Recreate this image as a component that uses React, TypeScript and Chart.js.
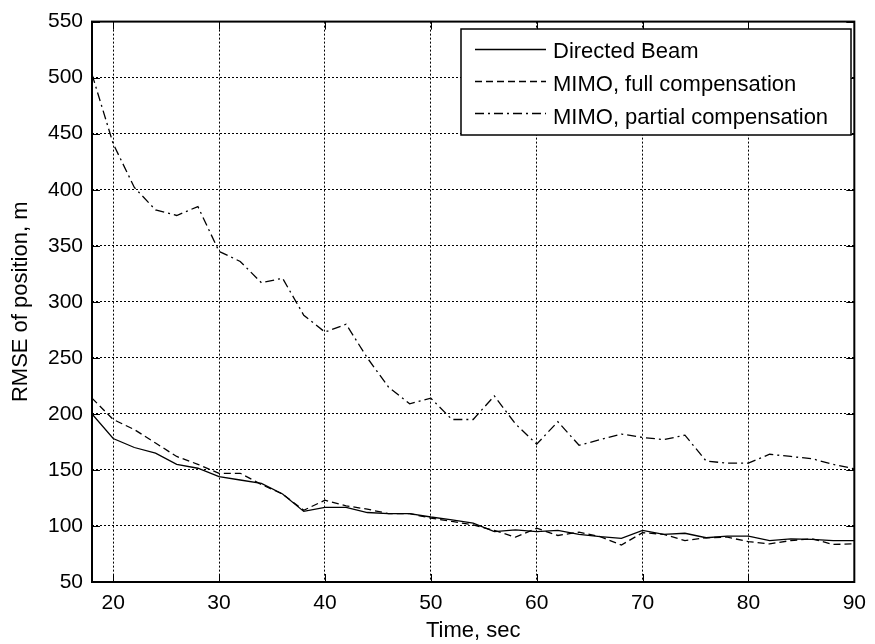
import React, { useEffect, useRef } from "react";
import { Chart, registerables } from "chart.js";

Chart.register(...registerables);

const timeSec = [18, 20, 22, 24, 26, 28, 30, 32, 34, 36, 38, 40, 42, 44, 46, 48, 50, 52, 54, 56, 58, 60, 62, 64, 66, 68, 70, 72, 74, 76, 78, 80, 82, 84, 86, 88, 90];
const directedBeam = [200, 178, 170, 165, 155, 151.5, 144, 141, 138, 128.5, 113, 116.5, 116.5, 112, 111, 111, 108, 105.5, 102.5, 95, 96.5, 95, 96, 92.5, 90.5, 89, 96, 92.5, 93.5, 89.5, 91, 91, 87, 88.5, 88, 87, 87];
const mimoFull = [214, 195, 186, 174, 162, 155, 147, 147, 137, 128.5, 114, 123, 118, 115, 111, 111, 107, 104, 101, 96, 90, 98, 91.5, 94.5, 90.5, 83, 94, 92.5, 87, 89.5, 90, 86, 84, 87, 88.5, 83.5, 84];
const mimoPartial = [503, 441, 402, 382, 377, 385, 345, 336, 317, 321, 288, 273, 280, 250, 224, 209, 214, 195, 195, 216, 191, 173, 193, 172, 177, 182, 179, 177, 181, 158, 156, 156, 164, 162, 160, 155, 151];
const seriesLabels = ["Directed Beam", "MIMO, full compensation", "MIMO, partial compensation"];
const xTickValues = [20, 30, 40, 50, 60, 70, 80, 90];
const yTickValues = [50, 100, 150, 200, 250, 300, 350, 400, 450, 500, 550];
const xTitle = "Time, sec";
const yTitle = "RMSE of position, m";

const FONT = "'Liberation Sans', Arial, Helvetica, sans-serif";

const framePlugin = {
  id: "frame",
  afterDraw(chart: any) {
    const { ctx, chartArea } = chart;
    const { left, right, top, bottom } = chartArea;
    const xs = chart.scales.x;
    const ys = chart.scales.y;
    const tl = 8;
    ctx.save();
    ctx.strokeStyle = "#000";
    ctx.lineWidth = 1;
    ctx.setLineDash([]);
    ctx.beginPath();
    xTickValues.forEach((v) => {
      const px = Math.round(xs.getPixelForValue(v)) + 0.5;
      ctx.moveTo(px, bottom);
      ctx.lineTo(px, bottom - tl);
      ctx.moveTo(px, top);
      ctx.lineTo(px, top + tl);
    });
    yTickValues.forEach((v) => {
      const py = Math.round(ys.getPixelForValue(v)) + 0.5;
      ctx.moveTo(left, py);
      ctx.lineTo(left + tl, py);
      ctx.moveTo(right, py);
      ctx.lineTo(right - tl, py);
    });
    ctx.stroke();
    ctx.lineWidth = 2;
    ctx.strokeRect(left, top, right - left, bottom - top);
    ctx.restore();
  },
};

const legendPlugin = {
  id: "boxLegend",
  afterDraw(chart: any) {
    const { ctx } = chart;
    const bx = 461, by = 29, bw = 390, bh = 106;
    ctx.save();
    ctx.fillStyle = "#fff";
    ctx.fillRect(bx, by, bw, bh);
    ctx.strokeStyle = "#000";
    ctx.lineWidth = 1.5;
    ctx.setLineDash([]);
    ctx.strokeRect(bx, by, bw, bh);
    chart.data.datasets.forEach((ds: any, i: number) => {
      const ly = 49.5 + 32 * i;
      const ty = 52 + 33 * i;
      ctx.beginPath();
      ctx.setLineDash(ds.borderDash || []);
      ctx.lineWidth = ds.borderWidth;
      ctx.strokeStyle = "#000";
      ctx.moveTo(475, ly);
      ctx.lineTo(546, ly);
      ctx.stroke();
      ctx.setLineDash([]);
      ctx.fillStyle = "#000";
      ctx.font = `22px ${FONT}`;
      ctx.textAlign = "left";
      ctx.textBaseline = "middle";
      ctx.fillText(ds.label, 553, ty);
    });
    ctx.restore();
  },
};

export default function App() {
  const canvasRef = useRef<HTMLCanvasElement | null>(null);

  useEffect(() => {
    if (!canvasRef.current) return;
    const mk = (vals: number[]) => timeSec.map((t, i) => ({ x: t, y: vals[i] }));
    const chart = new Chart(canvasRef.current, {
      type: "line",
      data: {
        datasets: [
          { label: seriesLabels[0], data: mk(directedBeam), borderColor: "#000", borderWidth: 1.3, pointRadius: 0, tension: 0, fill: false },
          { label: seriesLabels[1], data: mk(mimoFull), borderColor: "#000", borderWidth: 1.3, borderDash: [7, 4], pointRadius: 0, tension: 0, fill: false },
          { label: seriesLabels[2], data: mk(mimoPartial), borderColor: "#000", borderWidth: 1.3, borderDash: [9, 4, 2, 4], pointRadius: 0, tension: 0, fill: false },
        ],
      },
      options: {
        animation: false,
        responsive: false,
        layout: { padding: { left: 0, right: 13, top: 17, bottom: 0 } },
        plugins: { legend: { display: false }, tooltip: { enabled: false } },
        scales: {
          x: {
            type: "linear",
            min: 18,
            max: 90,
            afterBuildTicks: (s: any) => {
              s.ticks = xTickValues.map((v) => ({ value: v }));
            },
            afterFit: (s: any) => {
              s.height = 62;
            },
            grid: { color: "#000", lineWidth: 1, drawTicks: false },
            border: { display: false, dash: [2, 2] },
            ticks: { color: "#000", font: { size: 21, family: FONT }, padding: 9, maxRotation: 0 },
            title: { display: true, text: xTitle, color: "#000", font: { size: 22, family: FONT }, padding: { top: 0, bottom: 0 } },
          },
          y: {
            type: "linear",
            min: 50,
            max: 550,
            afterBuildTicks: (s: any) => {
              s.ticks = yTickValues.map((v) => ({ value: v }));
            },
            afterFit: (s: any) => {
              s.width = 92;
            },
            grid: { color: "#000", lineWidth: 1, drawTicks: false },
            border: { display: false, dash: [2, 2] },
            ticks: { color: "#000", font: { size: 21, family: FONT }, padding: 9 },
            title: { display: true, text: yTitle, color: "#000", font: { size: 22, family: FONT }, padding: { top: 8, bottom: 0 } },
          },
        },
      },
      plugins: [framePlugin, legendPlugin],
    } as any);
    return () => chart.destroy();
  }, []);

  return (
    <div style={{ position: "fixed", left: 0, top: 0, width: 875, height: 644, background: "#fff" }}>
      <canvas ref={canvasRef} width={875} height={644} style={{ display: "block" }} />
    </div>
  );
}
